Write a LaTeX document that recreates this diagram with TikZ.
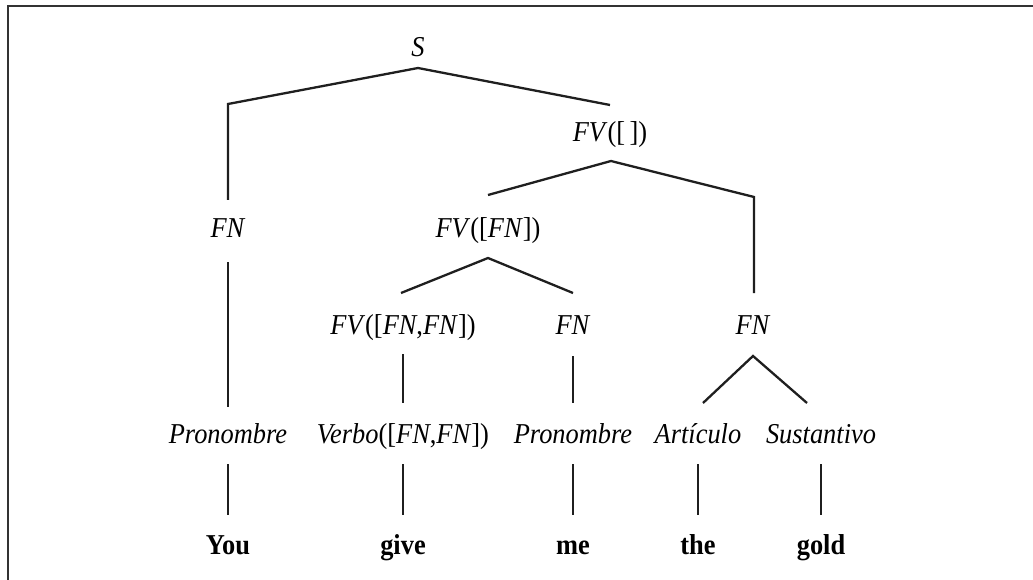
\documentclass[tikz,border=0pt]{standalone}
\usepackage{fontspec}
\setmainfont{Liberation Serif}
\usetikzlibrary{calc}
\newcommand{\tall}[1]{\scalebox{1}[1.09]{#1}}
\begin{document}
\begin{tikzpicture}[x=1pt,y=-1pt,
  lab/.style={inner sep=0pt,anchor=base,font=\fontsize{26.4}{30}\selectfont},
  word/.style={inner sep=0pt,anchor=base,font=\fontsize{26.4}{30}\selectfont\bfseries},
  branch/.style={line width=2.3pt,line join=miter,color=black!88},
  frameline/.style={line width=2.2pt,color=black!80}]
\useasboundingbox (0,0) rectangle (1033,580);
\coordinate (tl) at (8,6);
\coordinate (tr) at (1034,6);
\coordinate (bl) at (8,581);
\draw[frameline] (tr) -- (tl) -- (bl);

% nodes (placed at their baselines)
\node[lab] (S)   at (418,57)  {\tall{\textit{S}}};
\node[lab] (FV0) at (610,142) {\tall{\textit{FV}([\,])}};
\node[lab] (FN1) at (228,237) {\tall{\textit{FN}}};
\node[lab] (FV1) at (488,237) {\tall{\textit{FV}([\textit{FN}])}};
\node[lab] (FV2) at (403,334) {\tall{\textit{FV}([\textit{FN},\textit{FN}])}};
\node[lab] (FN2) at (573,334) {\tall{\textit{FN}}};
\node[lab] (FN3) at (753,334) {\tall{\textit{FN}}};
\node[lab] (P1)  at (228,443) {\tall{\textit{Pronombre}}};
\node[lab] (V)   at (403,443) {\tall{\textit{Verbo}([\textit{FN},\textit{FN}])}};
\node[lab] (P2)  at (573,443) {\tall{\textit{Pronombre}}};
\node[lab] (A)   at (698,443) {\tall{\textit{Artículo}}};
\node[lab] (Su)  at (821,443) {\tall{\textit{Sustantivo}}};
\node[word] (w1) at (228,554) {\tall{You}};
\node[word] (w2) at (403,554) {\tall{give}};
\node[word] (w3) at (573,554) {\tall{me}};
\node[word] (w4) at (698,554) {\tall{the}};
\node[word] (w5) at (821,554) {\tall{gold}};

% S
\draw[branch] ($(FN1.base)+(0,-37)$) -- ($(FN1.base)+(0,-133)$) -- ($(S.base)+(0,11)$) -- ($(FV0.base)+(0,-37)$);
% FV([ ])
\draw[branch] ($(FV1.base)+(0,-42)$) -- ($(FV0.base)+(1,19)$) -- ($(FN3.base)+(1,-137)$) -- ($(FN3.base)+(1,-41)$);
% FN left
\draw[branch] ($(FN1.base)+(0,25)$) -- ($(P1.base)+(0,-36)$);
% FV([FN])
\draw[branch] ($(FV2.base)+(-2,-41)$) -- ($(FV1.base)+(0,21)$) -- ($(FN2.base)+(0,-41)$);
% FV([FN,FN])
\draw[branch] ($(FV2.base)+(0,20)$) -- ($(V.base)+(0,-40)$);
% FN middle
\draw[branch] ($(FN2.base)+(0,22)$) -- ($(P2.base)+(0,-40)$);
% FN right
\draw[branch] ($(A.base)+(5,-40)$) -- ($(FN3.base)+(0,22)$) -- ($(Su.base)+(-14,-40)$);
% preterminals to words
\draw[branch] ($(P1.base)+(0,21)$) -- ($(w1.base)+(0,-39)$);
\draw[branch] ($(V.base)+(0,21)$) -- ($(w2.base)+(0,-39)$);
\draw[branch] ($(P2.base)+(0,21)$) -- ($(w3.base)+(0,-39)$);
\draw[branch] ($(A.base)+(0,21)$) -- ($(w4.base)+(0,-39)$);
\draw[branch] ($(Su.base)+(0,21)$) -- ($(w5.base)+(0,-39)$);
\end{tikzpicture}
\end{document}
